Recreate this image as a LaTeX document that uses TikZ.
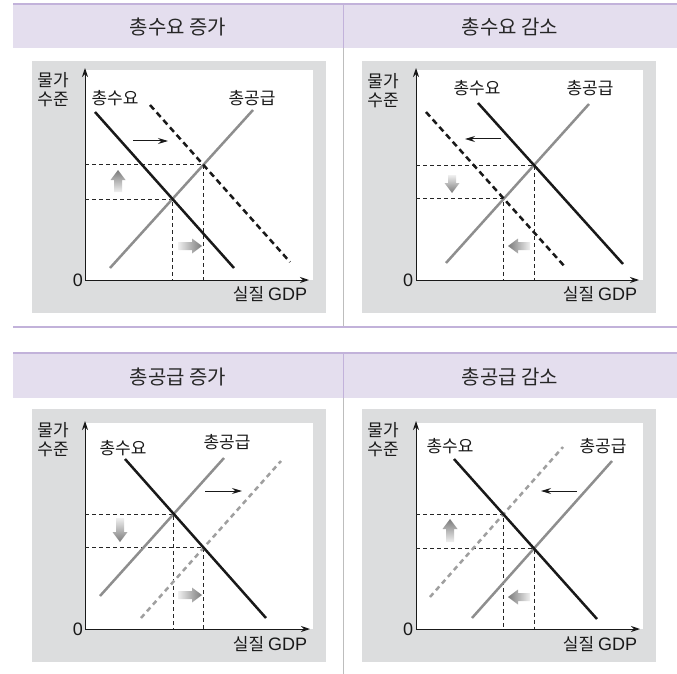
\documentclass[tikz,border=0pt]{standalone}
\usepackage{fontspec}
\setmainfont{Noto Sans CJK KR}
\newfontfamily\latinf{Liberation Sans}
\usetikzlibrary{arrows.meta}
\definecolor{hdrfill}{HTML}{E4DEEE}
\definecolor{hdrline}{HTML}{C2B2DA}
\definecolor{divline}{HTML}{BDBDBD}
\definecolor{panelgray}{HTML}{DCDDDE}
\definecolor{asgray}{HTML}{8E8E8E}
\definecolor{arrdark}{HTML}{7A7A7A}
\definecolor{arrlight}{HTML}{F0F0F0}
\newcommand\gdpfont{\latinf\fontsize{18}{20}\selectfont}
\tikzset{
 hdrtext/.style={font=\fontsize{20}{23}\selectfont, text=black!85, inner sep=0},
 lbl/.style={font=\fontsize{17}{19}\selectfont, inner sep=0, text=black!90},
 latlbl/.style={font=\gdpfont, inner sep=0, text=black!90},
 axisline/.style={line width=1pt, black!90, -{Stealth[length=9pt,width=6pt]}},
 adline/.style={line width=2.5pt, black!90},
 adnew/.style={line width=2.5pt, black!90, dash pattern=on 6pt off 4pt},
 asline/.style={line width=2.5pt, asgray},
 asnew/.style={line width=2.5pt, asgray!85, dash pattern=on 5pt off 4pt},
 guide/.style={line width=0.8pt, dash pattern=on 4pt off 3pt, black!85},
 shiftarr/.style={line width=1pt, black!90, -{Stealth[length=10pt,width=6pt]}},
 fadeup/.style={top color=arrdark, bottom color=arrlight, draw=none},
 fadedown/.style={top color=arrlight, bottom color=arrdark, draw=none},
 faderight/.style={left color=arrlight, right color=arrdark, draw=none},
 fadeleft/.style={left color=arrdark, right color=arrlight, draw=none},
 panelbg/.style={fill=panelgray},
 hdrbg/.style={fill=hdrfill},
 hdrrule/.style={line width=2pt, hdrline},
 divrule/.style={line width=1pt, divline},
}
% vertical block arrow: x, y tail, y head, sign (+1 head below, -1 head above), style
\newcommand\vblock[5]{\shade[#5] ({#1-4},{#2}) -- ({#1-4},{#3-#4*10}) -- ({#1-7.5},{#3-#4*10}) -- ({#1},{#3}) -- ({#1+7.5},{#3-#4*10}) -- ({#1+4},{#3-#4*10}) -- ({#1+4},{#2}) -- cycle;}
% horizontal block arrow: y, x tail, x head, sign (+1 head right, -1 head left), style
\newcommand\hblock[5]{\shade[#5] ({#2},{#1-4}) -- ({#3-#4*10},{#1-4}) -- ({#3-#4*10},{#1-7.5}) -- ({#3},{#1}) -- ({#3-#4*10},{#1+7.5}) -- ({#3-#4*10},{#1+4}) -- ({#2},{#1+4}) -- cycle;}
\begin{document}
\begin{tikzpicture}[x=1pt,y=-1pt]
\useasboundingbox (0,0) rectangle (677,674);
\fill[white] (0,0) rectangle (677,674);
% headers and rules
\fill[hdrbg] (13,4) rectangle (677,48);
\draw[hdrrule] (13,4) -- (677,4);
\fill[hdrbg] (13,353) rectangle (677,398);
\draw[hdrrule] (13,353) -- (677,353);
\draw[hdrrule] (13,327) -- (677,327);
\draw[divrule] (343,48) -- (343,326);
\draw[line width=1pt, hdrline] (343,5) -- (343,48);
\draw[line width=1pt, hdrline] (343,354) -- (343,398);
\draw[divrule] (343,398) -- (343,674);
\node[hdrtext] (h1) at (178,27) {총수요 증가};
\node[hdrtext] (h2) at (510,27) {총수요 감소};
\node[hdrtext] (h3) at (178,377) {총공급 증가};
\node[hdrtext] (h4) at (510,377) {총공급 감소};

% ---------- panel A: top-left ----------
\begin{scope}[shift={(32,61)}]
 \fill[panelbg] (0,0) rectangle (294,252);
 \fill[white] (53,9) rectangle (281,219);
 \coordinate (Ao) at (53,219);
 \coordinate (Ay) at (53,7);
 \coordinate (Ax) at (277,219);
 \draw[axisline] (Ao) -- (Ay);
 \draw[axisline] (Ao) -- (Ax);
 \node[latlbl] (A0) at (46,219) {0};
 \node[lbl] (Agdp) at (238,233) {실질 {\gdpfont GDP}};
 \node[lbl] (Ap1) at (21,19) {물가};
 \node[lbl] (Ap2) at (21,38) {수준};
 \node[lbl] (Adl) at (83,37) {총수요};
 \node[lbl] (Asl) at (220,37) {총공급};
 \coordinate (Ad1) at (63,51);  \coordinate (Ad2) at (202,207);
 \coordinate (As1) at (78,207); \coordinate (As2) at (221,49);
 \coordinate (An1) at (118,44); \coordinate (An2) at (258,201);
 \coordinate (Ae1) at (intersection of Ad1--Ad2 and As1--As2);
 \coordinate (Ae2) at (intersection of An1--An2 and As1--As2);
 \draw[guide] (Ao |- Ae1) -- (Ae1) -- (Ae1 |- Ao);
 \draw[guide] (Ao |- Ae2) -- (Ae2) -- (Ae2 |- Ao);
 \draw[asline] (As1) -- (As2);
 \draw[adline] (Ad1) -- (Ad2);
 \draw[adnew] (An1) -- (An2);
 \coordinate (Aa1) at (101,80); \coordinate (Aa2) at (136,80);
 \draw[shiftarr] (Aa1) -- (Aa2);
 \vblock{86}{131}{109}{-1}{fadeup}
 \hblock{185}{146}{170}{1}{faderight}
\end{scope}

% ---------- panel B: top-right ----------
\begin{scope}[shift={(362,61)}]
 \fill[panelbg] (0,0) rectangle (294,252);
 \fill[white] (54,9) rectangle (281,219);
 \coordinate (Bo) at (54,219);
 \coordinate (By) at (54,7);
 \coordinate (Bx) at (277,219);
 \draw[axisline] (Bo) -- (By);
 \draw[axisline] (Bo) -- (Bx);
 \node[latlbl] (B0) at (46,219) {0};
 \node[lbl] (Bgdp) at (238,233) {실질 {\gdpfont GDP}};
 \node[lbl] (Bp1) at (21,20) {물가};
 \node[lbl] (Bp2) at (21,39) {수준};
 \node[lbl] (Bdl) at (115,27) {총수요};
 \node[lbl] (Bsl) at (228,27) {총공급};
 \coordinate (Bd1) at (116,42); \coordinate (Bd2) at (261,203);
 \coordinate (Bs1) at (84,202); \coordinate (Bs2) at (227,43);
 \coordinate (Bn1) at (64,51);  \coordinate (Bn2) at (204,207);
 \coordinate (Be1) at (intersection of Bd1--Bd2 and Bs1--Bs2);
 \coordinate (Be2) at (intersection of Bn1--Bn2 and Bs1--Bs2);
 \draw[guide] (Bo |- Be1) -- (Be1) -- (Be1 |- Bo);
 \draw[guide] (Bo |- Be2) -- (Be2) -- (Be2 |- Bo);
 \draw[asline] (Bs1) -- (Bs2);
 \draw[adline] (Bd1) -- (Bd2);
 \draw[adnew] (Bn1) -- (Bn2);
 \coordinate (Ba1) at (139,78); \coordinate (Ba2) at (103,78);
 \draw[shiftarr] (Ba1) -- (Ba2);
 \vblock{90}{114}{132}{1}{fadedown}
 \hblock{185}{168}{146}{-1}{fadeleft}
\end{scope}

% ---------- panel C: bottom-left ----------
\begin{scope}[shift={(32,409)}]
 \fill[panelbg] (0,0) rectangle (294,253);
 \fill[white] (53,14) rectangle (281,220);
 \coordinate (Co) at (53,220);
 \coordinate (Cy) at (53,12);
 \coordinate (Cx) at (278,220);
 \draw[axisline] (Co) -- (Cy);
 \draw[axisline] (Co) -- (Cx);
 \node[latlbl] (C0) at (46,220) {0};
 \node[lbl] (Cgdp) at (238,235) {실질 {\gdpfont GDP}};
 \node[lbl] (Cp1) at (21,21) {물가};
 \node[lbl] (Cp2) at (21,40) {수준};
 \node[lbl] (Cdl) at (91,39) {총수요};
 \node[lbl] (Csl) at (195,33) {총공급};
 \coordinate (Cd1) at (93,50);  \coordinate (Cd2) at (234,209);
 \coordinate (Cs1) at (68,187); \coordinate (Cs2) at (192,49);
 \coordinate (Cn1) at (109,209); \coordinate (Cn2) at (249,52);
 \coordinate (Ce1) at (intersection of Cd1--Cd2 and Cs1--Cs2);
 \coordinate (Ce2) at (intersection of Cd1--Cd2 and Cn1--Cn2);
 \draw[guide] (Co |- Ce1) -- (Ce1) -- (Ce1 |- Co);
 \draw[guide] (Co |- Ce2) -- (Ce2) -- (Ce2 |- Co);
 \draw[asline] (Cs1) -- (Cs2);
 \draw[asnew] (Cn1) -- (Cn2);
 \draw[adline] (Cd1) -- (Cd2);
 \coordinate (Ca1) at (173,82); \coordinate (Ca2) at (210,82);
 \draw[shiftarr] (Ca1) -- (Ca2);
 \vblock{88}{109}{133}{1}{fadedown}
 \hblock{186}{146}{170}{1}{faderight}
\end{scope}

% ---------- panel D: bottom-right ----------
\begin{scope}[shift={(362,409)}]
 \fill[panelbg] (0,0) rectangle (294,253);
 \fill[white] (54,14) rectangle (281,220);
 \coordinate (Do) at (54,220);
 \coordinate (Dy) at (54,12);
 \coordinate (Dx) at (278,220);
 \draw[axisline] (Do) -- (Dy);
 \draw[axisline] (Do) -- (Dx);
 \node[latlbl] (D0) at (46,220) {0};
 \node[lbl] (Dgdp) at (238,235) {실질 {\gdpfont GDP}};
 \node[lbl] (Dp1) at (21,21) {물가};
 \node[lbl] (Dp2) at (21,40) {수준};
 \node[lbl] (Ddl) at (88,37) {총수요};
 \node[lbl] (Dsl) at (241,37) {총공급};
 \coordinate (Dd1) at (92,50);  \coordinate (Dd2) at (235,210);
 \coordinate (Ds1) at (110,209); \coordinate (Ds2) at (250,52);
 \coordinate (Dn1) at (68,188); \coordinate (Dn2) at (201,38);
 \coordinate (De1) at (intersection of Dd1--Dd2 and Ds1--Ds2);
 \coordinate (De2) at (intersection of Dd1--Dd2 and Dn1--Dn2);
 \draw[guide] (Do |- De1) -- (De1) -- (De1 |- Do);
 \draw[guide] (Do |- De2) -- (De2) -- (De2 |- Do);
 \draw[asline] (Ds1) -- (Ds2);
 \draw[asnew] (Dn1) -- (Dn2);
 \draw[adline] (Dd1) -- (Dd2);
 \coordinate (Da1) at (215,82); \coordinate (Da2) at (179,82);
 \draw[shiftarr] (Da1) -- (Da2);
 \vblock{88}{133}{110}{-1}{fadeup}
 \hblock{188}{168}{146}{-1}{fadeleft}
\end{scope}
\end{tikzpicture}
\end{document}
